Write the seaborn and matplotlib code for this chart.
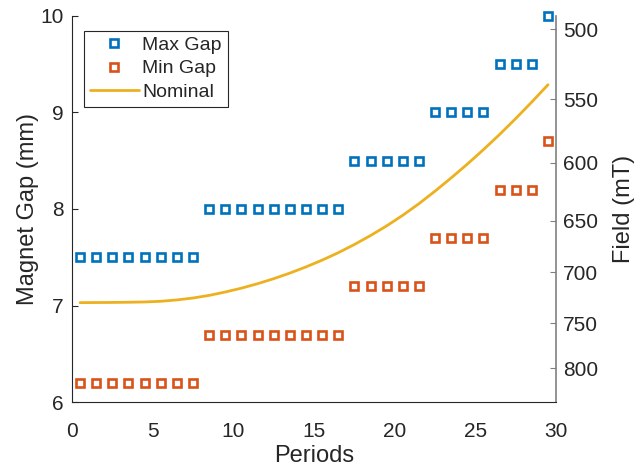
import matplotlib
matplotlib.use("Agg")
import matplotlib.pyplot as plt
import seaborn as sns
import pandas as pd

# Gap settings per magnet period
max_periods = [0.5, 1.5, 2.5, 3.5, 4.5, 5.5, 6.5, 7.5,
               8.5, 9.5, 10.5, 11.5, 12.5, 13.5, 14.5, 15.5, 16.5,
               17.5, 18.5, 19.5, 20.5, 21.5,
               22.5, 23.5, 24.5, 25.5,
               26.5, 27.5, 28.5,
               29.5]
max_gap = [7.5] * 8 + [8.0] * 9 + [8.5] * 5 + [9.0] * 4 + [9.5] * 3 + [10.0]
min_gap = [6.2] * 8 + [6.7] * 9 + [7.2] * 5 + [7.7] * 4 + [8.2] * 3 + [8.7]

# Nominal gap profile
nominal_periods = max_periods
nominal_gap = [7.030, 7.031, 7.032, 7.034, 7.037, 7.044, 7.058, 7.078,
               7.105, 7.140, 7.180, 7.226, 7.278, 7.336, 7.400, 7.470,
               7.547, 7.632, 7.725, 7.825, 7.935, 8.055, 8.185, 8.322,
               8.465, 8.615, 8.772, 8.937, 9.109, 9.287]

# Field scale: field values and the gap at which each occurs
field_labels = [500, 550, 600, 650, 700, 750, 800]
field_gap_pos = [9.862, 9.137, 8.480, 7.876, 7.344, 6.815, 6.349]

df_max = pd.DataFrame({"Periods": max_periods, "Gap": max_gap})
df_min = pd.DataFrame({"Periods": max_periods, "Gap": min_gap})
df_nom = pd.DataFrame({"Periods": nominal_periods, "Gap": nominal_gap})

sns.set_style("white")
plt.rcParams["font.family"] = ["Liberation Sans", "DejaVu Sans"]

BLUE = "#0072BD"
ORANGE = "#D95319"
YELLOW = "#EDB120"
DARK = "#262626"
GREY = "#808080"

fig = plt.figure(figsize=(6.37, 4.67), dpi=100)
ax = fig.add_axes([0.113, 0.139, 0.760, 0.827])

mk = dict(marker="s", linestyle="", markersize=6, markeredgewidth=1.9,
          markerfacecolor="white", clip_on=False)
sns.lineplot(data=df_max, x="Periods", y="Gap", ax=ax, label="Max Gap",
             markeredgecolor=BLUE, color=BLUE, **mk)
sns.lineplot(data=df_min, x="Periods", y="Gap", ax=ax, label="Min Gap",
             markeredgecolor=ORANGE, color=ORANGE, **mk)
sns.lineplot(data=df_nom, x="Periods", y="Gap", ax=ax, label="Nominal",
             color=YELLOW, linewidth=2.0)

ax.set_xlim(0, 30)
ax.set_ylim(6, 10)
ax.set_xticks([0, 5, 10, 15, 20, 25, 30])
ax.set_yticks([6, 7, 8, 9, 10])
ax.set_xlabel("Periods", fontsize=17, color=DARK, labelpad=3)
ax.set_ylabel("Magnet Gap (mm)", fontsize=17, color=DARK, labelpad=1)
ax.tick_params(direction="in", length=4, width=0.8, colors=DARK,
               labelsize=15, pad=6)
ax.tick_params(axis="x", pad=14)
for side in ["top", "right"]:
    ax.spines[side].set_visible(False)
for side in ["left", "bottom"]:
    ax.spines[side].set_color(DARK)
    ax.spines[side].set_linewidth(0.8)

# Field axis on the right
ax2 = ax.twinx()
ax2.set_ylim(6, 10)
ax2.set_yticks(field_gap_pos)
ax2.set_yticklabels([str(v) for v in field_labels])
ax2.set_ylabel("Field (mT)", fontsize=17, color=DARK, labelpad=11)
ax2.tick_params(direction="in", length=4, width=0.8, colors=GREY,
                labelcolor=DARK, labelsize=15, pad=5)
for side in ["top", "left", "bottom"]:
    ax2.spines[side].set_visible(False)
ax2.spines["right"].set_color(GREY)
ax2.spines["right"].set_linewidth(1.2)

leg = ax.legend(loc="upper left", bbox_to_anchor=(0.025, 0.962),
                fontsize=14, frameon=True, fancybox=False, framealpha=1,
                edgecolor=DARK, handlelength=2.5, handletextpad=0.2,
                borderpad=0.3, labelspacing=0.3, borderaxespad=0)
leg.get_frame().set_linewidth(0.8)
ax.set_zorder(ax2.get_zorder() + 1)
ax.patch.set_visible(False)

fig.savefig("out.png", dpi=100)
